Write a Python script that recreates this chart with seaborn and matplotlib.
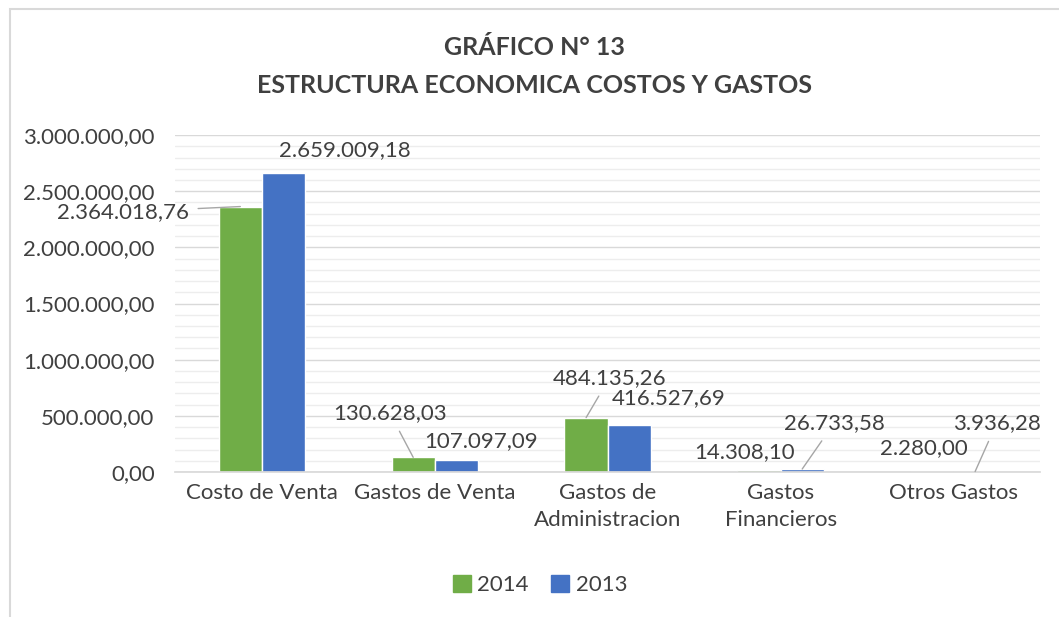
import pandas as pd
import matplotlib
matplotlib.use("Agg")
import matplotlib.pyplot as plt
from matplotlib.ticker import MultipleLocator, FuncFormatter
from matplotlib.patches import Rectangle
import seaborn as sns

# Datos del gráfico
categorias = ["Costo de Venta", "Gastos de Venta", "Gastos de\nAdministracion",
              "Gastos\nFinancieros", "Otros Gastos"]
valores_2014 = [2364018.76, 130628.03, 484135.26, 14308.10, 2280.00]
valores_2013 = [2659009.18, 107097.09, 416527.69, 26733.58, 3936.28]
anios = ["2014", "2013"]

df = pd.DataFrame({
    "Categoria": categorias * 2,
    "Año": [anios[0]] * len(categorias) + [anios[1]] * len(categorias),
    "Valor": valores_2014 + valores_2013,
})

sns.set_theme(style="white")
plt.rcParams["font.family"] = ["Lato", "DejaVu Sans"]
TXT = "#404040"
FS = 16


def fmt_es(v, pos=None):
    s = f"{v:,.2f}"
    return s.replace(",", "X").replace(".", ",").replace("X", ".")


fig = plt.figure(figsize=(10.59, 6.17), dpi=100)
ax = fig.add_axes([0.1657, 0.235, 0.8163, 0.546])

sns.barplot(data=df, x="Categoria", y="Valor", hue="Año", order=categorias,
            hue_order=anios, palette=["#70ad47", "#4472c4"], width=0.5,
            saturation=1, ax=ax, legend=False)

ax.set_xlim(-0.5, 4.5)
ax.set_ylim(0, 3000000)
ax.yaxis.set_major_locator(MultipleLocator(500000))
ax.yaxis.set_minor_locator(MultipleLocator(100000))
ax.yaxis.set_major_formatter(FuncFormatter(fmt_es))
ax.grid(axis="y", which="major", color="#d9d9d9", lw=1)
ax.grid(axis="y", which="minor", color="#ededed", lw=1)
ax.set_axisbelow(True)
for s in ["left", "right", "top"]:
    ax.spines[s].set_visible(False)
ax.spines["bottom"].set_color("#d9d9d9")
ax.tick_params(axis="both", which="both", length=0, labelsize=FS, colors=TXT, pad=8)
ax.tick_params(axis="y", pad=15)
ax.set_xlabel("")
ax.set_ylabel("")
for t in ax.get_xticklabels():
    t.set_linespacing(1.45)

# Etiquetas de datos (posición de texto, con o sin línea guía)
etiquetas = [
    (valores_2014[0], -0.125, (-0.42, 2315000), "right", True),
    (valores_2013[0], 0.125, (0.48, 2866000), "center", False),
    (valores_2014[1], 0.875, (0.74, 525000), "center", True),
    (valores_2013[1], 1.125, (1.27, 276000), "center", False),
    (valores_2014[2], 1.875, (2.01, 837000), "center", True),
    (valores_2013[2], 2.125, (2.35, 659000), "center", False),
    (valores_2014[3], 2.875, (2.79, 178000), "center", False),
    (valores_2013[3], 3.125, (3.31, 436000), "center", True),
    (valores_2014[4], 3.875, (3.83, 214000), "center", False),
    (valores_2013[4], 4.125, (4.25, 436000), "center", True),
]
for val, xb, pos, ha, guia in etiquetas:
    if guia:
        ax.annotate(fmt_es(val), xy=(xb, val), xytext=pos, ha=ha, va="center",
                    fontsize=FS, color=TXT,
                    arrowprops=dict(arrowstyle="-", color="#a6a6a6", lw=1,
                                    shrinkA=4, shrinkB=0))
    else:
        ax.text(pos[0], pos[1], fmt_es(val), ha=ha, va="center", fontsize=FS, color=TXT)

fig.text(0.505, 0.923, "GRÁFICO N° 13", ha="center", va="center",
         fontsize=18, fontweight="bold", color=TXT)
fig.text(0.505, 0.862, "ESTRUCTURA ECONOMICA COSTOS Y GASTOS", ha="center",
         va="center", fontsize=18, fontweight="bold", color=TXT)

handles = [Rectangle((0, 0), 1, 1, color="#70ad47"), Rectangle((0, 0), 1, 1, color="#4472c4")]
fig.legend(handles, anios, loc="center", bbox_to_anchor=(0.51, 0.052), ncol=2,
           frameon=False, fontsize=FS, labelcolor=TXT, handlelength=0.8,
           handleheight=0.8, handletextpad=0.3, columnspacing=1.0)

# Borde del área del gráfico
fig.patches.append(Rectangle((10 / 1059, -0.05), 1.1, 1 - 9 / 617 + 0.05,
                             transform=fig.transFigure, fill=False,
                             edgecolor="#d9d9d9", lw=1.5))

fig.savefig("out.png", dpi=100)
